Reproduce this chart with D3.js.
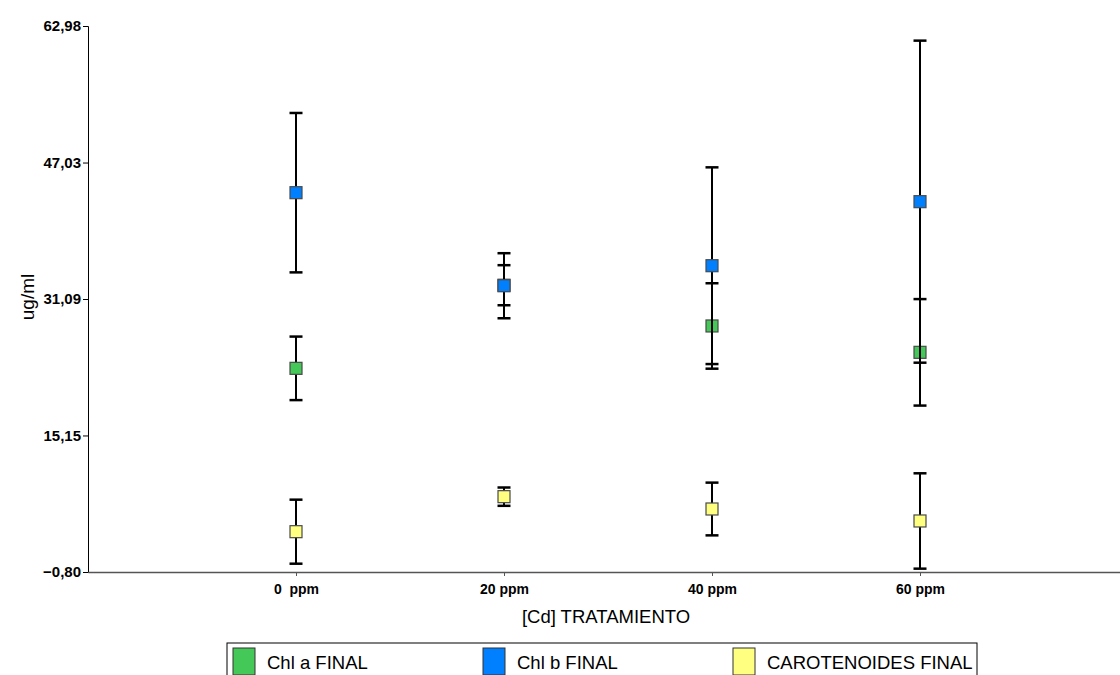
<!DOCTYPE html>
<html>
<head>
<meta charset="utf-8">
<script src="https://cdn.jsdelivr.net/npm/d3@7"></script>
<style>
  body { margin: 0; background: #fff; }
  svg { display: block; font-family: "Liberation Sans", Arial, sans-serif; }
  .tickLbl { font-weight: bold; font-size: 14px; fill: #000; }
</style>
</head>
<body>
<div id="chart"></div>
<script>
// categories / tick labels
const categories = ["0  ppm", "20 ppm", "40 ppm", "60 ppm"];
const yTicks = [-0.80, 15.15, 31.09, 47.03, 62.98];

// series values (mean and error)
const chlA = [22.99, 32.70, 27.94, 24.86];
const chlAErr = [3.71, 2.34, 4.99, 6.22];
const chlB = [43.51, 32.64, 34.98, 42.46];
const chlBErr = [9.31, 3.80, 11.49, 18.81];
const carot = [3.91, 8.00, 6.56, 5.16];
const carotErr = [3.74, 1.07, 3.08, 5.57];

const seriesNames = ["Chl a FINAL", "Chl b FINAL", "CAROTENOIDES FINAL"];
const seriesColors = ["#44c858", "#0080ff", "#ffff80"];

const width = 1120, height = 675;
const margin = {top: 26, left: 88};
const innerW = 1040, innerH = 546;

const svg = d3.select("#chart").append("svg")
    .attr("width", width)
    .attr("height", height);

const g = svg.append("g")
    .attr("transform", "translate(" + margin.left + "," + margin.top + ")");

const x = d3.scalePoint().domain(categories).range([0, innerW]).padding(1);
const y = d3.scaleLinear().domain([-0.80, 62.98]).range([innerH, 0]);

// y axis
const yAxisG = g.append("g")
    .call(d3.axisLeft(y).tickValues(yTicks).tickSize(5)
        .tickFormat(d => d3.format(".2f")(d).replace(".", ",")));
yAxisG.select(".domain").attr("stroke", "#000");
yAxisG.selectAll(".tick line").attr("stroke", "#000");
yAxisG.selectAll(".tick text").attr("class", "tickLbl").attr("x", -7)
    .style("font-size", "15px");

// x axis
const xAxisG = g.append("g")
    .attr("transform", "translate(0," + innerH + ")")
    .call(d3.axisBottom(x).tickSize(4).tickSizeOuter(0));
xAxisG.select(".domain").attr("stroke", "#555").attr("stroke-width", 1.5);
xAxisG.selectAll(".tick line").attr("stroke", "#555");
xAxisG.selectAll(".tick text").attr("class", "tickLbl").attr("y", 12)
    .style("white-space", "pre");

// axis titles
svg.append("text")
    .attr("transform", "rotate(-90)")
    .attr("x", -297)
    .attr("y", 34)
    .attr("text-anchor", "middle")
    .attr("font-size", 19)
    .text("ug/ml");

svg.append("text")
    .attr("x", 606)
    .attr("y", 623)
    .attr("text-anchor", "middle")
    .attr("font-size", 18.5)
    .text("[Cd] TRATAMIENTO");

// data
const series = [
    {name: seriesNames[0], values: chlA, errs: chlAErr, color: seriesColors[0]},
    {name: seriesNames[1], values: chlB, errs: chlBErr, color: seriesColors[1]},
    {name: seriesNames[2], values: carot, errs: carotErr, color: seriesColors[2]}
];

const capW = 13, markSize = 12;

series.forEach(s => {
    const pts = categories.map((c, i) => ({cat: c, v: s.values[i], e: s.errs[i]}));
    const sg = g.append("g").attr("class", "series");

    sg.selectAll(".errLine").data(pts).join("line")
        .attr("x1", d => x(d.cat)).attr("x2", d => x(d.cat))
        .attr("y1", d => y(d.v + d.e)).attr("y2", d => y(d.v - d.e))
        .attr("stroke", "#000").attr("stroke-width", 2);

    [1, -1].forEach(sign => {
        sg.selectAll(".cap" + sign).data(pts).join("line")
            .attr("x1", d => x(d.cat) - capW / 2).attr("x2", d => x(d.cat) + capW / 2)
            .attr("y1", d => y(d.v + sign * d.e)).attr("y2", d => y(d.v + sign * d.e))
            .attr("stroke", "#000").attr("stroke-width", 2.5);
    });

    sg.selectAll("rect").data(pts).join("rect")
        .attr("x", d => x(d.cat) - markSize / 2)
        .attr("y", d => y(d.v) - markSize / 2)
        .attr("width", markSize).attr("height", markSize)
        .attr("fill", s.color)
        .attr("stroke", "#4a4a4a").attr("stroke-width", 1.2);
});

// legend
const legend = svg.append("g").attr("transform", "translate(227,643)");
legend.append("rect")
    .attr("width", 750).attr("height", 45)
    .attr("fill", "#fff").attr("stroke", "#000").attr("stroke-width", 1);

const legItems = legend.selectAll(".legItem").data(series).join("g")
    .attr("transform", (d, i) => "translate(" + (6 + i * 250) + ",5)");
legItems.append("rect")
    .attr("width", 22).attr("height", 27)
    .attr("fill", d => d.color)
    .attr("stroke", "#333").attr("stroke-width", 1);
legItems.append("text")
    .attr("x", 34).attr("y", 21)
    .attr("font-size", 18.5)
    .text(d => d.name);
</script>
</body>
</html>
